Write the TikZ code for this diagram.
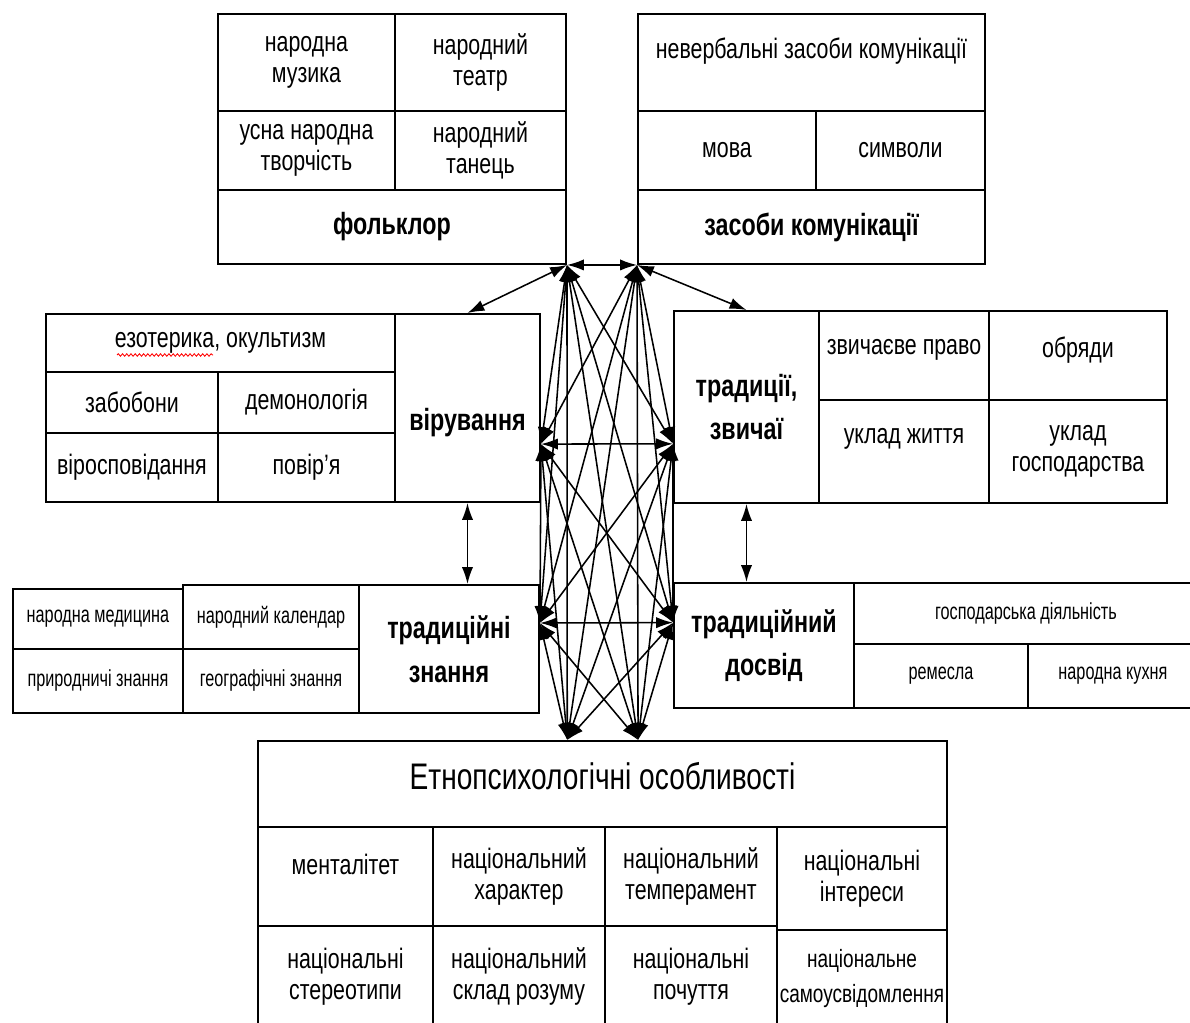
\documentclass[tikz,border=0pt]{standalone}
\usepackage{fontspec}
\setmainfont{Liberation Sans}[FakeStretch=0.76]
\newfontfamily\narrowfont{Liberation Sans}[FakeStretch=0.7]
\usetikzlibrary{positioning,arrows.meta,calc,decorations.pathmorphing}
\newlength\px
\setlength\px{0.025cm}

\begin{document}
\begin{tikzpicture}[x=0.025cm, y=-0.025cm, >={Latex[length=12pt,width=8pt]}]
      \tikzstyle{cell}=[draw, line width=1.4pt, rectangle, anchor=north west, inner sep=0pt, align=center, font=\fontsize{20}{22}\selectfont];
      \tikzstyle{head}=[cell, font=\fontsize{21.8}{31}\selectfont\bfseries];
      \tikzstyle{tiny}=[cell, font=\narrowfont\fontsize{16.5}{19}\selectfont];
      \tikzstyle{link}=[<->, line width=1.1pt];

      \clip (0,0) rectangle (1190,1023);
      \fill[white] (0,0) rectangle (1190,1023);

      % фольклор
      \node (fmus) at (217,13) [cell, minimum width=177\px, minimum height=97\px]{народна\\музика};
      \node (fteatr) at (394,13) [cell, minimum width=171\px, minimum height=97\px]{народний\\театр};
      \node (fusna) at (217,110) [cell, minimum width=177\px, minimum height=79\px]{усна народна\\творчість};
      \node (ftan) at (394,110) [cell, minimum width=171\px, minimum height=79\px]{народний\\танець};
      \node (folk) at (217,189) [head, minimum width=348\px, minimum height=74\px]{фольклор};

      % засоби комунікації
      \node (cnev) at (637,13) [cell, minimum width=347\px, minimum height=97\px, text depth=20pt]{невербальні засоби комунікації};
      \node (cmova) at (637,110) [cell, minimum width=178\px, minimum height=79\px]{мова};
      \node (csym) at (815,110) [cell, minimum width=169\px, minimum height=79\px]{символи};
      \node (comm) at (637,189) [head, minimum width=347\px, minimum height=74\px]{засоби комунікації};

      % вірування
      \node (vezo) at (45,313) [cell, minimum width=349\px, minimum height=58\px]{езотерика, окультизм};
      \node (vzab) at (45,371) [cell, minimum width=172\px, minimum height=61\px]{забобони};
      \node (vdem) at (217,371) [cell, minimum width=177\px, minimum height=61\px]{демонологія};
      \node (vvir) at (45,432) [cell, minimum width=172\px, minimum height=69\px]{віросповідання};
      \node (vpov) at (217,432) [cell, minimum width=177\px, minimum height=69\px]{повір’я};
      \node (vir) at (394,313) [head, minimum width=145\px, minimum height=188\px, text height=36pt]{вірування};
      \draw[red, line width=0.6pt, decorate, decoration={snake, amplitude=0.9pt, segment length=3pt}] (117,355) -- (213,355);

      % традиції, звичаї
      \node (trad) at (673,310) [head, minimum width=145\px, minimum height=192\px]{традиції,\\звичаї};
      \node (tpravo) at (818,310) [cell, minimum width=170\px, minimum height=89\px, text depth=12pt]{звичаєве право};
      \node (tobr) at (988,310) [cell, minimum width=178\px, minimum height=89\px, text depth=12pt]{обряди};
      \node (tzhyt) at (818,399) [cell, minimum width=170\px, minimum height=103\px, text depth=22pt]{уклад життя};
      \node (tgosp) at (988,399) [cell, minimum width=178\px, minimum height=103\px]{уклад\\господарства};

      % традиційні знання
      \node (kmed) at (12,588) [tiny, minimum width=170\px, minimum height=60\px]{народна медицина};
      \node (kprir) at (12,648) [tiny, minimum width=170\px, minimum height=64\px]{природничі знання};
      \node (kkal) at (182,584) [tiny, minimum width=176\px, minimum height=64\px]{народний календар};
      \node (kgeo) at (182,648) [tiny, minimum width=176\px, minimum height=64\px]{географічні знання};
      \node (know) at (358,584) [head, minimum width=180\px, minimum height=128\px]{традиційні\\знання};

      % традиційний досвід
      \node (exp) at (673,582) [head, minimum width=180\px, minimum height=125\px]{традиційний\\досвід};
      \node (egosp) at (853,582) [tiny, minimum width=344\px, minimum height=61\px]{господарська діяльність};
      \node (erem) at (853,643) [tiny, minimum width=174\px, minimum height=64\px]{ремесла};
      \node (ekuh) at (1027,643) [tiny, minimum width=170\px, minimum height=64\px]{народна кухня};

      % етнопсихологічні особливості
      \node (eth) at (257,740) [cell, minimum width=689\px, minimum height=86\px, text depth=11pt, font=\fontsize{26.3}{30}\selectfont]{Етнопсихологічні особливості};
      \node (men) at (257,826) [cell, minimum width=175\px, minimum height=99\px, text depth=18pt]{менталітет};
      \node (nchar) at (432,826) [cell, minimum width=172\px, minimum height=99\px]{національний\\характер};
      \node (ntemp) at (604,826) [cell, minimum width=172\px, minimum height=99\px]{національний\\темперамент};
      \node (nint) at (776,826) [cell, minimum width=170\px, minimum height=103\px]{національні\\інтереси};
      \node (nster) at (257,925) [cell, minimum width=175\px, minimum height=101\px]{національні\\стереотипи};
      \node (nskl) at (432,925) [cell, minimum width=172\px, minimum height=101\px]{національний\\склад розуму};
      \node (npoch) at (604,925) [cell, minimum width=172\px, minimum height=101\px]{національні\\почуття};
      \node (nsam) at (776,929) [cell, minimum width=170\px, minimum height=97\px, font=\fontsize{17.8}{25}\selectfont]{національне\\самоусвідомлення};

      % вузли зв'язків
      \coordinate (fh) at (folk.south east);
      \coordinate (ch) at (comm.south west);
      \coordinate (vh) at ($(vir.south east)!0.31!(vir.north east)$);
      \coordinate (th) at ($(trad.south west)!0.31!(trad.north west)$);
      \coordinate (kh) at ($(know.south east)!0.7!(know.north east)$);
      \coordinate (dh) at ($(exp.south west)!0.68!(exp.north west)$);
      \coordinate (e1) at ($(eth.north west)!0.449!(eth.north east)$);
      \coordinate (e2) at ($(eth.north west)!0.5515!(eth.north east)$);

      \draw [link] (fh) -- (vir.north);
      \draw [link] (ch) -- (trad.north);
      \draw [link] (vir.south) -- (vir.south |- know.north);
      \draw [link] (trad.south) -- (trad.south |- exp.north);

      \draw [link] (fh) -- (ch);
      \draw [link] (vh) -- (th);
      \draw [link] (kh) -- (dh);

      \draw [link] (fh) -- (vh);
      \draw [link] (fh) -- (th);
      \draw [link] (fh) -- (kh);
      \draw [link] (fh) -- (dh);
      \draw [link] (fh) -- (e1);
      \draw [link] (fh) -- (e2);

      \draw [link] (ch) -- (vh);
      \draw [link] (ch) -- (th);
      \draw [link] (ch) -- (kh);
      \draw [link] (ch) -- (dh);
      \draw [link] (ch) -- (e1);
      \draw [link] (ch) -- (e2);

      \draw [link] (vh) -- (kh);
      \draw [link] (vh) -- (dh);
      \draw [link] (vh) -- (e1);
      \draw [link] (vh) -- (e2);
      \draw [link] (th) -- (kh);
      \draw [link] (th) -- (dh);
      \draw [link] (th) -- (e1);
      \draw [link] (th) -- (e2);

      \draw [link] (kh) -- (e1);
      \draw [link] (kh) -- (e2);
      \draw [link] (dh) -- (e1);
      \draw [link] (dh) -- (e2);
\end{tikzpicture}
\end{document}
